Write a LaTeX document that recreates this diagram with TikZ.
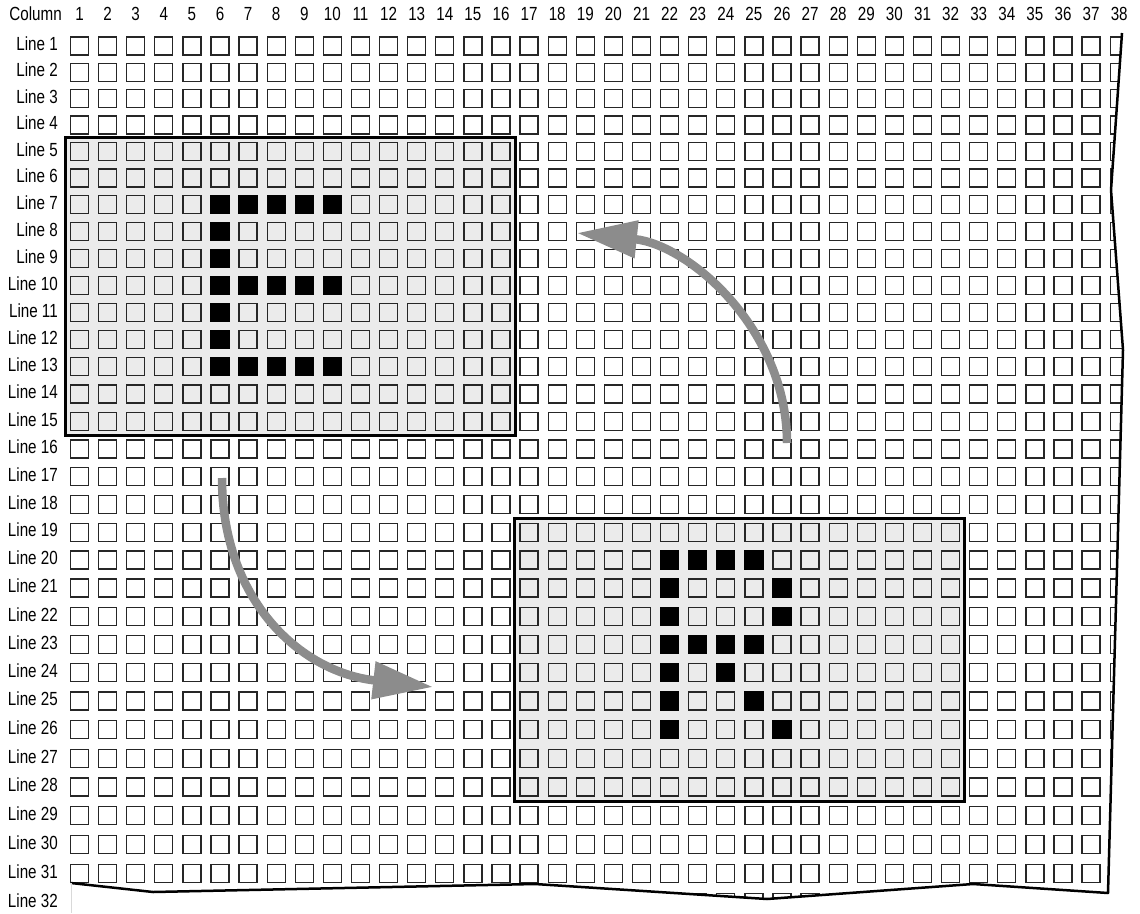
\documentclass[tikz,border=0pt]{standalone}
\usepackage{fontspec}
\setmainfont{Liberation Sans}[FakeStretch=0.8]
\usetikzlibrary{arrows.meta,backgrounds,fit}
\definecolor{panelgray}{gray}{0.92}
\definecolor{arrowgray}{gray}{0.55}
\begin{document}
\begin{tikzpicture}[x=1pt, y=-1pt, font=\fontsize{19}{21}\selectfont,
  declare function={colx(\i)=79.5+28.1*(\i-1); rowy(\i)=46+26.15*(\i-1)+0.0478*(\i-1)^2;},
  cell/.style={draw=black!85, line width=1.3pt, minimum size=18pt, inner sep=0pt},
  ink/.style={cell, fill=black, draw=black},
  panel/.style={draw, line width=3pt, fill=panelgray, inner sep=4.5pt},
  lbl/.style={inner sep=0pt},
  tear/.style={line width=2.5pt, line join=round},
  turn/.style={draw=arrowgray, line width=8.5pt, -{Triangle[length=60pt,width=36pt]}}]
\useasboundingbox (0,0) rectangle (1140,913);
\coordinate (t1) at (1122,33); \coordinate (t2) at (1111,190); \coordinate (t3) at (1123,350);
\coordinate (t4) at (1108,893); \coordinate (t5) at (973,884); \coordinate (t6) at (767,899);
\coordinate (t7) at (535,884); \coordinate (t8) at (153,892); \coordinate (t9) at (71,883);
\coordinate (t0) at (71,913);
\begin{scope}
\clip (64,33) -- (t1) -- (t2) -- (t3) -- (t4) -- (t5) -- (t6) -- (t7) -- (t8) -- (t9) -- (64,883) -- cycle;
\foreach \r in {1,...,32} \foreach \c in {1,...,38} \node[cell] (s\c-\r) at ({colx(\c)},{rowy(\r)}) {};
\end{scope}
\begin{scope}[on background layer]
\node[panel, fit=(s1-5)(s16-15)] (boxE) {};
\node[panel, fit=(s17-19)(s32-28)] (boxR) {};
\end{scope}
\foreach \c/\r in {6/7,7/7,8/7,9/7,10/7,6/8,6/9,6/10,7/10,8/10,9/10,10/10,6/11,6/12,6/13,7/13,8/13,9/13,10/13}
  \node[ink] (k\c-\r) at (s\c-\r) {};
\foreach \c/\r in {22/20,23/20,24/20,25/20,22/21,26/21,22/22,26/22,22/23,23/23,24/23,25/23,22/24,24/24,22/25,25/25,22/26,26/26}
  \node[ink] (k\c-\r) at (s\c-\r) {};
\draw[tear] (t1) -- (t2) -- (t3) -- (t4) -- (t5) -- (t6) -- (t7) -- (t8) -- (t9);
\draw[gray!30, line width=0.8pt] (t9) -- (t0);
\node[lbl, anchor=east] (colhead) at (62,14) {Column};
\foreach \c in {1,...,38} \node[lbl] (h\c) at ({colx(\c)},14) {\c};
\foreach \r in {1,...,32} \node[lbl, anchor=east] (l\r) at (58,{rowy(\r)-2}) {Line \r};
\coordinate (up0) at (787,443); \coordinate (up1) at (577,233);
\draw[turn] (up0) .. controls (787,330) and (690,245) .. (up1);
\coordinate (dn0) at (222,478); \coordinate (dn1) at (433,687);
\draw[turn] (dn0) .. controls (222,600) and (300,672) .. (dn1);
\end{tikzpicture}
\end{document}
